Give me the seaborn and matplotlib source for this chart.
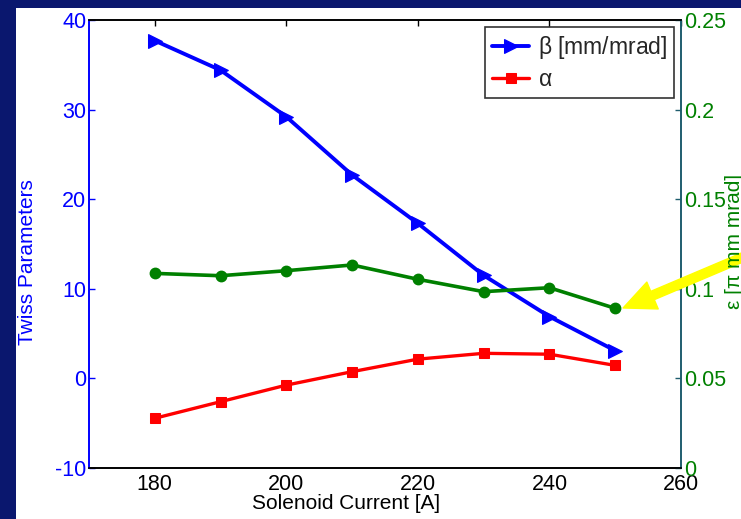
import matplotlib
matplotlib.use("Agg")
import matplotlib.pyplot as plt
from matplotlib.patches import Rectangle
import seaborn as sns

# values
current = [180, 190, 200, 210, 220, 230, 240, 250]
beta = [37.7, 34.4, 29.2, 22.7, 17.3, 11.5, 6.9, 3.1]
alpha = [-4.45, -2.6, -0.75, 0.75, 2.15, 2.8, 2.7, 1.45]
emittance = [0.1086, 0.1073, 0.1101, 0.1133, 0.1053, 0.0984, 0.1006, 0.0891]

x_ticks = [180, 200, 220, 240, 260]
left_ticks = [-10, 0, 10, 20, 30, 40]
right_ticks = [0, 0.05, 0.1, 0.15, 0.2, 0.25]
right_labels = ["0", "0.05", "0.1", "0.15", "0.2", "0.25"]

NAVY = "#0a176e"
BLUE = "#0000ff"
RED = "#ff0000"
GREEN = "#008000"
TEAL = "#1f5d6e"

sns.set_theme(style="white")
plt.rcParams["font.family"] = ["Liberation Sans", "DejaVu Sans"]
plt.rcParams["axes.unicode_minus"] = False

fig = plt.figure(figsize=(7.41, 5.19), dpi=100)
fig.patch.set_facecolor(NAVY)
# white slide panel behind the axes
fig.patches.append(Rectangle((16 / 741, 0), 1, 1 - 8 / 519, transform=fig.transFigure,
                             facecolor="white", edgecolor="none", zorder=-5))

ax = fig.add_axes([89 / 741, 1 - 468 / 519, (681 - 89) / 741, (468 - 20) / 519])
ax.set_facecolor("white")
ax2 = ax.twinx()

sns.lineplot(x=current, y=beta, ax=ax, color=BLUE, linewidth=2.8, marker=">",
             markersize=10, markeredgecolor=BLUE, label=r"$\mathregular{\beta}$ [mm/mrad]")
sns.lineplot(x=current, y=alpha, ax=ax, color=RED, linewidth=2.4, marker="s",
             markersize=7, markeredgecolor=RED, label=r"$\mathregular{\alpha}$")
sns.lineplot(x=current, y=emittance, ax=ax2, color=GREEN, linewidth=2.6, marker="o",
             markersize=6.5, markeredgecolor=GREEN, markeredgewidth=2, legend=False)

ax.set_xlim(170, 260)
ax.set_ylim(-10, 40)
ax2.set_ylim(0, 0.25)
ax.set_xticks(x_ticks)
ax.set_yticks(left_ticks)
ax2.set_yticks(right_ticks)
ax2.set_yticklabels(right_labels)

ax.tick_params(axis="x", direction="in", top=True, length=4, width=1, colors="black",
               labelsize=15.5, pad=4)
ax.tick_params(axis="y", direction="in", length=4, width=1, color=BLUE,
               labelcolor=BLUE, labelsize=15.5, pad=2)
ax2.tick_params(axis="y", direction="in", length=4, width=1, color=TEAL,
                labelcolor=GREEN, labelsize=15.5, pad=2)

for a in (ax, ax2):
    for s in a.spines.values():
        s.set_linewidth(1.2)
        s.set_color("black")
    a.spines["left"].set_color(BLUE)
    a.spines["right"].set_color(TEAL)

ax.set_xlabel("Solenoid Current [A]", fontsize=15, color="black")
ax.xaxis.set_label_coords(0.434, -0.058)
ax.set_ylabel("Twiss Parameters", fontsize=15, color=BLUE)
ax.yaxis.set_label_coords(-0.088, 0.46)
ax2.set_ylabel("")
fig.text(735 / 741, 1 - 241 / 519, "ε [π mm mrad]", rotation=90, ha="center",
         va="center", color=GREEN, fontsize=15)

leg = ax.legend(loc="upper right", fontsize=16.5, frameon=True, fancybox=False,
                edgecolor="black", handlelength=1.6, borderaxespad=0.3,
                borderpad=0.3, labelspacing=0.3, handletextpad=0.4)
leg.get_frame().set_linewidth(1.2)
leg.set_zorder(10)

# yellow pointer to the last emittance point
ax2.annotate("", xy=(251.2, 0.0893), xycoords="data",
             xytext=(1.035, 0.524), textcoords="figure fraction",
             arrowprops=dict(facecolor="#ffff00", edgecolor="#ffff00", width=6.5,
                             headwidth=21, headlength=23, shrink=0),
             annotation_clip=False)

fig.savefig("out.png", dpi=100, facecolor=fig.get_facecolor())
